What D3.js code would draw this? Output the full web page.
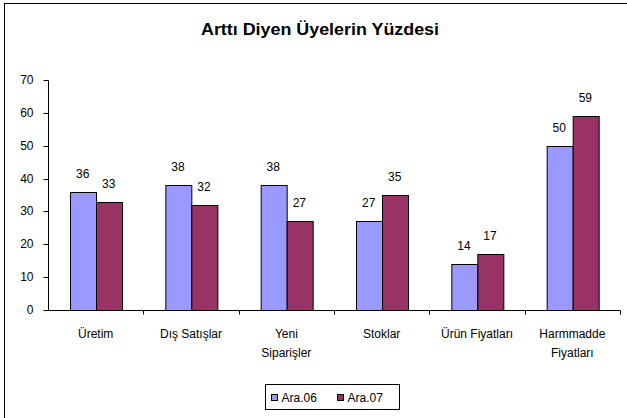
<!DOCTYPE html>
<html>
<head>
<meta charset="utf-8">
<script src="https://cdn.jsdelivr.net/npm/d3@7/dist/d3.min.js"></script>
<style>
  body { margin: 0; background: #fff; }
  svg { display: block; font-family: "Liberation Sans", Arial, sans-serif; }
</style>
</head>
<body>
<div id="chart"></div>
<script>
// chart data
var categories = [["Üretim"], ["Dış Satışlar"], ["Yeni", "Siparişler"], ["Stoklar"], ["Ürün Fiyatları"], ["Harmmadde", "Fiyatları"]];
var seriesNames = ["Ara.06", "Ara.07"];
var ara06 = [36, 38, 38, 27, 14, 50];
var ara07 = [33, 32, 27, 35, 17, 59];
var yTicks = [0, 10, 20, 30, 40, 50, 60, 70];

(function() {
  var width = 627, height = 418;
  var colors = ["#9999ff", "#993366"];

  var svg = d3.select("#chart").append("svg")
      .attr("width", width)
      .attr("height", height);

  // outer frame (runs off the right / bottom edge like the source)
  svg.append("rect")
      .attr("x", 4.5).attr("y", 3.5)
      .attr("width", 640).attr("height", 430)
      .attr("fill", "none").attr("stroke", "#000").attr("stroke-width", 1);

  svg.append("text")
      .attr("x", 320).attr("y", 35)
      .attr("text-anchor", "middle")
      .attr("textLength", 238)
      .attr("lengthAdjust", "spacingAndGlyphs")
      .style("font-size", "16px").style("font-weight", "bold")
      .text("Arttı Diyen Üyelerin Yüzdesi");

  var pLeft = 48, pRight = 620, pTop = 80, pBottom = 310;

  var x0 = d3.scaleBand()
      .domain(d3.range(categories.length))
      .range([pLeft, pRight])
      .padding(0);

  var x1 = d3.scaleBand()
      .domain(seriesNames)
      .range([0, x0.bandwidth()])
      .paddingInner(0)
      .paddingOuter(0.83);

  var y = d3.scaleLinear().domain([0, 70]).range([pBottom, pTop]);

  // y axis
  var yAxis = svg.append("g")
      .attr("transform", "translate(" + (pLeft + 0.5) + ",0)")
      .call(d3.axisLeft(y).tickValues(yTicks).tickSize(5).tickPadding(10));
  yAxis.selectAll("text").style("font-size", "12px").attr("fill", "#000");
  yAxis.selectAll("line,path").attr("stroke", "#000");
  yAxis.select(".domain").attr("d", "M0," + (pTop + 0.5) + "V" + (pBottom + 0.5));
  yAxis.selectAll(".tick").attr("transform", function(d) { return "translate(0," + (Math.round(y(d)) + 0.5) + ")"; });

  // bars
  var rows = categories.map(function(c, i) { return [ara06[i], ara07[i]]; });
  var groups = svg.selectAll(".grp")
      .data(rows)
      .enter().append("g")
      .attr("class", "grp")
      .attr("transform", function(d, i) { return "translate(" + x0(i) + ",0)"; });

  groups.selectAll("rect")
      .data(function(d) { return d.map(function(v, j) { return { v: v, s: seriesNames[j], j: j }; }); })
      .enter().append("rect")
      .attr("x", function(d) { return Math.round(x1(d.s)) + 0.5; })
      .attr("y", function(d) { return Math.round(y(d.v)) + 0.5; })
      .attr("width", Math.round(x1.bandwidth()))
      .attr("height", function(d) { return Math.round(y(0)) - Math.round(y(d.v)); })
      .attr("fill", function(d) { return colors[d.j]; })
      .attr("stroke", "#000")
      .attr("stroke-width", 1);

  groups.selectAll("text.val")
      .data(function(d) { return d.map(function(v, j) { return { v: v, s: seriesNames[j] }; }); })
      .enter().append("text")
      .attr("class", "val")
      .attr("x", function(d) { return x1(d.s) + x1.bandwidth() / 2; })
      .attr("y", function(d) { return y(d.v) - 14; })
      .attr("text-anchor", "middle")
      .style("font-size", "12px")
      .text(function(d) { return d.v; });

  // x axis
  var xAxis = svg.append("g").attr("transform", "translate(0," + (pBottom + 0.5) + ")");
  xAxis.append("line")
      .attr("x1", pLeft).attr("x2", pRight + 0.5)
      .attr("stroke", "#000");
  xAxis.selectAll("line.tk")
      .data(d3.range(categories.length))
      .enter().append("line")
      .attr("class", "tk")
      .attr("x1", function(i) { return Math.round(x0(i) + x0.bandwidth()) + 0.5; })
      .attr("x2", function(i) { return Math.round(x0(i) + x0.bandwidth()) + 0.5; })
      .attr("y1", 0).attr("y2", 4)
      .attr("stroke", "#000");

  var labels = xAxis.selectAll("text.cat")
      .data(categories)
      .enter().append("text")
      .attr("class", "cat")
      .attr("text-anchor", "middle")
      .style("font-size", "12px")
      .attr("transform", function(d, i) { return "translate(" + (x0(i) + x0.bandwidth() / 2) + ",0)"; });
  labels.selectAll("tspan")
      .data(function(d) { return d; })
      .enter().append("tspan")
      .attr("x", 0)
      .attr("y", function(d, k) { return 27 + k * 19; })
      .text(function(d) { return d; });

  // legend
  var lg = svg.append("g").attr("transform", "translate(265.5,384.5)");
  lg.append("rect")
      .attr("width", 134).attr("height", 25)
      .attr("fill", "#fff").attr("stroke", "#000");
  var items = lg.selectAll("g.item")
      .data(seriesNames)
      .enter().append("g")
      .attr("transform", function(d, i) { return "translate(" + (6 + i * 66) + ",0)"; });
  items.append("rect")
      .attr("x", 0).attr("y", 10)
      .attr("width", 6).attr("height", 6)
      .attr("fill", function(d, i) { return colors[i]; })
      .attr("stroke", "#000");
  items.append("text")
      .attr("x", 10).attr("y", 17)
      .style("font-size", "12px")
      .text(function(d) { return d; });
})();
</script>
</body>
</html>
